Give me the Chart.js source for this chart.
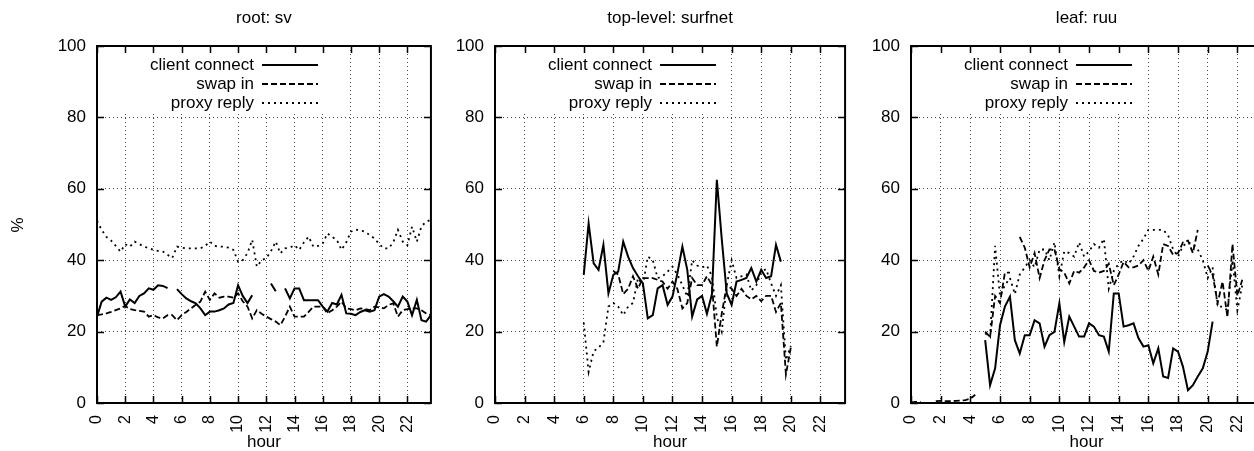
<!DOCTYPE html>
<html>
<head>
<meta charset="utf-8">
<script src="https://cdn.jsdelivr.net/npm/chart.js@4"></script>
<style>
  html, body { margin: 0; padding: 0; background: #fff; width: 1254px; height: 451px; overflow: hidden; position: relative; }
  canvas { position: absolute; top: 0; }
</style>
</head>
<body>
<canvas id="c-sv" width="439" height="451" style="left:0px"></canvas>
<canvas id="c-surfnet" width="412" height="451" style="left:440px"></canvas>
<canvas id="c-ruu" width="413" height="451" style="left:856px"></canvas>
<script>
// sample times, every 20 minutes
const hours = [0, 0.33, 0.67, 1, 1.33, 1.67, 2, 2.33, 2.67, 3, 3.33, 3.67,
  4, 4.33, 4.67, 5, 5.33, 5.67, 6, 6.33, 6.67, 7, 7.33, 7.67,
  8, 8.33, 8.67, 9, 9.33, 9.67, 10, 10.33, 10.67, 11, 11.33, 11.67,
  12, 12.33, 12.67, 13, 13.33, 13.67, 14, 14.33, 14.67, 15, 15.33, 15.67,
  16, 16.33, 16.67, 17, 17.33, 17.67, 18, 18.33, 18.67, 19, 19.33, 19.67,
  20, 20.33, 20.67, 21, 21.33, 21.67, 22, 22.33, 22.67, 23, 23.33, 23.67];

const seriesNames = ['client connect', 'swap in', 'proxy reply'];
const panelTitles = ['root: sv', 'top-level: surfnet', 'leaf: ruu'];

// root: sv
const svClient = [24.2, 28.4, 29.5, 28.9, 29.6, 31.2, 27, 29, 28, 30, 30.7, 32.1,
  31.7, 33, 32.8, 32.2, null, 31.9, 30.5, 29.3, 28.5, 27.9, 26.5, 24.6,
  25.6, 25.6, 26, 26.5, 27.6, 28, 33, 30, 28, 30.2, null, null,
  null, 33.5, 31.3, null, 32.1, 29.3, 32.1, 32.1, 28.8, 28.8, 28.8, 28.8,
  27, 25.6, 28, 27.6, 30.3, 25.1, 25, 24.6, 25.5, 26, 25.6, 26,
  29.8, 30.5, 29.8, 28.5, 27, 29.8, 28.4, 24.6, 28.9, 23.2, 22.8, 24.6];
const svSwap = [24.6, 24.8, 25.1, 25.5, 26, 26.5, 27.2, 26.3, 26, 25.8, 25.6, 24.2,
  24.6, 24, 23.7, 24.6, 24.6, 23.2, 24.6, 25.5, 26.5, 27.5, 28.4, 31.2,
  28.9, 30.7, 29.5, 29.8, 29.8, 29.5, 30.7, 28.5, 27, 23.7, 26, 25,
  24.2, 23.5, 22.8, 21.8, 24.2, 27, 24.2, 24.2, 24.2, 25.5, 27, 27,
  27, 25.1, 26, 27, 28.4, 26.5, 26.3, 26, 26.5, 26.3, 26, 27,
  26.8, 26.5, 27.5, 27.9, 24.2, 26, 26.3, 26.5, 26.5, 26, 25.1, 24.6];
const svProxy = [51, 48.5, 46.5, 45.5, 44, 42.4, 44.5, 43.8, 45.2, 44.5, 43.8, 43.4,
  42.9, 42.6, 42.4, 41.5, 40.6, 43.8, 43.5, 43.3, 43.3, 43.3, 43.3, 44,
  45.2, 44, 43.8, 43.8, 43.5, 42.9, 39.6, 40, 42, 45.7, 38.2, 40,
  40.6, 42.5, 45.2, 41.9, 43.3, 43.5, 44.2, 42.9, 45, 46.6, 43.8, 44,
  44.7, 47.5, 46.5, 45.7, 42.9, 45, 48, 48.6, 48.3, 48, 47, 46.1,
  44.5, 43.3, 43.3, 45, 48.5, 45.2, 44.2, 49.4, 45.2, 49.5, 50.8, 51.3];

// top-level: surfnet
const surfnetClient = [null, null, null, null, null, null, null, null, null, null, null, null,
  null, null, null, null, null, null, 35.9, 50.3, 39.1, 37.3, 44.3, 30.7,
  35.9, 36.8, 45.2, 41, 37.8, 35.5, 33.5, 23.7, 24.6, 32.1, 33, 27.5,
  29.8, 36.3, 43.8, 37.3, 24.2, 29, 30, 25, 30.5, 62.5, 46, 30.7,
  27.5, 34, 34.5, 35, 37.8, 34, 37.3, 35, 35.5, 44.3, 39.6, null,
  null, null, null, null, null, null, null, null, null, null, null, null];
const surfnetSwap = [null, null, null, null, null, null, null, null, null, null, null, null,
  null, null, null, null, null, null, null, null, null, null, null, null,
  37, 36, 30.5, 32, 35.5, 32, 35, 35, 35, 34.5, 34, 32,
  34, 32, 26.5, 28, 35, 33, 33, 35.5, 33, 15.8, 25, 33,
  32, 30, 32, 30, 29, 30, 28.5, 30, 30, 25.5, 28, 8,
  15.5, null, null, null, null, null, null, null, null, null, null, null];
const surfnetProxy = [null, null, null, null, null, null, null, null, null, null, null, null,
  null, null, null, null, null, null, 22.5, 8.7, 14.5, 15.5, 17, 27,
  28, 27, 24.6, 27, 28, 35, 33, 41, 40, 35, 35.5, 36.8,
  38.2, 36, 33, 29.8, 40, 38.5, 38, 38.5, 35.5, 24, 20, 33,
  40, 35, 35.5, 36, 31.5, 33, 36.8, 37.5, 33.5, 30, 33, 12,
  16, null, null, null, null, null, null, null, null, null, null, null];

// leaf: ruu
const ruuClient = [null, null, null, null, null, null, null, null, null, null, null, null,
  null, null, null, 17.6, 5, 9.7, 21.8, 27, 29.8, 17.6, 13.9, 19,
  19, 23.2, 22.3, 15.8, 19, 19.9, 27.9, 17.1, 24.2, 21.4, 18.6, 18.6,
  22.3, 21.4, 19, 18.6, 14.4, 30.7, 30.7, 21.4, 21.8, 22.3, 18.2, 15.8,
  16.2, 11.1, 15.3, 7.4, 7, 15.3, 14.4, 10.2, 3.6, 5, 7.4, 9.7,
  14.4, 22.8, null, null, null, null, null, null, null, null, null, null];
const ruuSwap = [0.2, 0.3, 0.2, null, null, 0.5, 0.6, 0.5, 0.5, 0.6, 0.7, 0.8,
  1.2, 2.3, null, 20, 18.5, 30, 28, 36.5, 36.5, null, 46.5, 43.5,
  38, 42, 35, 40, 43, 43, 37.5, 36.5, 33.5, 37, 36.5, 38,
  40, 37, 36.5, 37, 39, 33, 36, 39.5, 38, 38, 38.5, 40,
  37, 41, 36, 44.5, 44, 41.5, 42, 45, 45.5, 42, 48.5, null,
  38.5, 36, 28, 34, 24, 44.5, 30, 34.5, null, null, null, null];
const ruuProxy = [null, null, null, null, null, null, null, null, null, null, null, null,
  null, null, null, 19.5, 18.5, 44, 30, 33, 35, 30.5, 36, 38,
  40, 38, 43, 43, 40, 45, 35.5, 42.5, 42, 41, 45, 41,
  42.5, 44.5, 43.5, 46, 32, 37, 39, 40, 39, 41, 44, 46,
  48.5, 48.5, 48.5, 48.5, 47, 43, 41, 44, 45, 44.5, 43, 40,
  35, 38, 27, 27, 26, 40, 26, 33, null, null, null, null];

const FONT_FAMILY = '"Liberation Sans", Arial, Helvetica, sans-serif';
const LINE_STYLES = [
  { borderWidth: 2, borderDash: [] },
  { borderWidth: 1.8, borderDash: [6, 3] },
  { borderWidth: 1.8, borderDash: [2, 4] }
];

Chart.defaults.font.family = FONT_FAMILY;
Chart.defaults.color = '#000';

// gnuplot-style frame, inward ticks, key, titles
const gnuplotLook = {
  id: 'gnuplotLook',
  afterDraw(chart, args, opts) {
    const { ctx, chartArea: a } = chart;
    const xs = chart.scales.x;
    const ys = chart.scales.y;
    ctx.save();

    // key box hides the grid behind it
    ctx.fillStyle = '#fff';
    ctx.fillRect(a.left + 1, a.top + 1, 229, 66);
    ctx.font = '17px ' + FONT_FAMILY;
    ctx.fillStyle = '#000';
    ctx.textAlign = 'right';
    ctx.textBaseline = 'middle';
    chart.data.datasets.forEach((ds, i) => {
      const yy = a.top + 19 + i * 19;
      ctx.fillText(ds.label, a.left + 157, yy);
      ctx.beginPath();
      ctx.setLineDash(ds.borderDash);
      ctx.lineWidth = ds.borderWidth;
      ctx.strokeStyle = '#000';
      ctx.moveTo(a.left + 165, yy);
      ctx.lineTo(a.left + 221, yy);
      ctx.stroke();
    });
    ctx.setLineDash([]);

    // border
    ctx.lineWidth = 2;
    ctx.strokeStyle = '#000';
    ctx.strokeRect(a.left, a.top, a.right - a.left, a.bottom - a.top);

    // inward ticks on all four sides
    ctx.lineWidth = 1.5;
    ctx.beginPath();
    xs.ticks.forEach(t => {
      const p = Math.round(xs.getPixelForValue(t.value)) + 0.5;
      ctx.moveTo(p, a.bottom); ctx.lineTo(p, a.bottom - 7);
      ctx.moveTo(p, a.top); ctx.lineTo(p, a.top + 7);
    });
    ys.ticks.forEach(t => {
      const p = Math.round(ys.getPixelForValue(t.value)) + 0.5;
      ctx.moveTo(a.left, p); ctx.lineTo(a.left + 7, p);
      ctx.moveTo(a.right, p); ctx.lineTo(a.right - 7, p);
    });
    ctx.stroke();

    // titles
    ctx.textAlign = 'center';
    ctx.fillText(opts.title, (a.left + a.right) / 2, 18);
    ctx.fillText('hour', (a.left + a.right) / 2, 442);
    if (opts.ylabel) {
      ctx.translate(18, 225);
      ctx.rotate(-Math.PI / 2);
      ctx.fillText(opts.ylabel, 0, 0);
    }
    ctx.restore();
  }
};

function makePanel(canvasId, title, values, yAxisWidth, ylabel) {
  const datasets = values.map((vals, i) => ({
    label: seriesNames[i],
    data: hours.map((h, j) => ({ x: h, y: vals[j] })),
    borderColor: '#000',
    borderWidth: LINE_STYLES[i].borderWidth,
    borderDash: LINE_STYLES[i].borderDash,
    pointRadius: 0,
    tension: 0,
    spanGaps: false,
    fill: false
  }));

  return new Chart(document.getElementById(canvasId), {
    type: 'line',
    data: { datasets },
    plugins: [gnuplotLook],
    options: {
      responsive: false,
      animation: false,
      devicePixelRatio: 1,
      layout: { padding: { top: 46, right: 6, left: 0, bottom: 0 } },
      plugins: {
        legend: { display: false },
        tooltip: { enabled: false },
        gnuplotLook: { title, ylabel }
      },
      scales: {
        x: {
          type: 'linear',
          min: 0,
          max: hours[hours.length - 1],
          afterFit: s => { s.height = 48; },
          ticks: {
            stepSize: 2,
            includeBounds: false,
            autoSkip: false,
            minRotation: 90,
            maxRotation: 90,
            padding: 12,
            font: { size: 16 },
            color: '#000'
          },
          grid: { color: '#444', lineWidth: 1, drawTicks: false },
          border: { display: false, dash: [1, 3] }
        },
        y: {
          min: 0,
          max: 100,
          afterFit: s => { s.width = yAxisWidth; },
          ticks: { stepSize: 20, padding: 11, font: { size: 17 }, color: '#000' },
          grid: { color: '#444', lineWidth: 1, drawTicks: false },
          border: { display: false, dash: [1, 3] }
        }
      }
    }
  });
}

makePanel('c-sv', panelTitles[0], [svClient, svSwap, svProxy], 97, '%');
makePanel('c-surfnet', panelTitles[1], [surfnetClient, surfnetSwap, surfnetProxy], 55, null);
makePanel('c-ruu', panelTitles[2], [ruuClient, ruuSwap, ruuProxy], 55, null);
</script>
</body>
</html>
